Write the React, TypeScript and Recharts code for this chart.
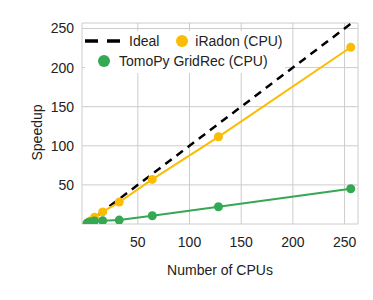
import { LineChart, Line, XAxis, YAxis, CartesianGrid, Legend, Label } from 'recharts';

const cpus = [1, 2, 4, 8, 16, 32, 64, 128, 256];
const ideal = [1, 2, 4, 8, 16, 32, 64, 128, 256];
const iradon = [1, 1.9, 3.9, 8.5, 15.5, 28, 57, 111.5, 226];
const gridrec = [1, 1.7, 2.6, 3.8, 4.2, 5, 10.5, 22, 45];

const seriesNames = ['Ideal', 'iRadon (CPU)', 'TomoPy GridRec (CPU)'];
const xTicks = [50, 100, 150, 200, 250];
const yTicks = [50, 100, 150, 200, 250];

const COLORS = ['#000000', '#FBBC04', '#34A853'];

const data = cpus.map((n, i) => ({
  cpus: n,
  ideal: ideal[i],
  iradon: iradon[i],
  gridrec: gridrec[i],
}));

const FONT = '"Liberation Sans", Arial, sans-serif';

function Dot({ color }: { color: string }) {
  return (
    <svg width={12} height={12} style={{ display: 'block' }}>
      <circle cx={6} cy={6} r={6} fill={color} />
    </svg>
  );
}

function ChartLegend() {
  const text = { fontSize: 14, color: '#222', lineHeight: '20px' };
  return (
    <div style={{ background: '#fff', fontFamily: FONT, paddingBottom: 2 }}>
      <div style={{ display: 'flex', alignItems: 'center', height: 20 }}>
        <svg width={35} height={4} style={{ display: 'block' }}>
          <line x1={0} y1={2} x2={35} y2={2} stroke={COLORS[0]} strokeWidth={3.5} strokeDasharray="13 9" />
        </svg>
        <span style={{ ...text, marginLeft: 9 }}>{seriesNames[0]}</span>
        <span style={{ marginLeft: 17 }}>
          <Dot color={COLORS[1]} />
        </span>
        <span style={{ ...text, marginLeft: 7 }}>{seriesNames[1]}</span>
      </div>
      <div style={{ display: 'flex', alignItems: 'center', height: 20, marginLeft: 13 }}>
        <Dot color={COLORS[2]} />
        <span style={{ ...text, marginLeft: 9 }}>{seriesNames[2]}</span>
      </div>
    </div>
  );
}

export default function App() {
  return (
    <div style={{ position: 'absolute', left: 0, top: 0, width: 373, height: 300, background: '#fff' }}>
      <LineChart
        width={373}
        height={300}
        data={data}
        margin={{ top: 23, right: 15, bottom: 0, left: 0 }}
        style={{ fontFamily: FONT }}
      >
        <CartesianGrid stroke="#cccccc" strokeWidth={1} />
        <XAxis
          dataKey="cpus"
          type="number"
          domain={[-4, 263]}
          ticks={xTicks}
          height={76}
          axisLine={false}
          tickLine={false}
          tickMargin={7}
          allowDataOverflow
          tick={{ fill: '#222', fontSize: 14 }}
        >
          <Label value="Number of CPUs" position="insideBottom" offset={25} fill="#222" fontSize={14} />
        </XAxis>
        <YAxis
          type="number"
          domain={[0, 257]}
          ticks={yTicks}
          width={82}
          axisLine={false}
          tickLine={false}
          allowDataOverflow
          tick={{ fill: '#222', fontSize: 14 }}
        >
          <Label value="Speedup" position="center" angle={-90} dx={-4} dy={9} fill="#222" fontSize={14} />
        </YAxis>
        <Legend
          layout="vertical"
          align="center"
          verticalAlign="middle"
          wrapperStyle={{ top: 31, left: 85, width: 200 }}
          content={() => <ChartLegend />}
        />
        <Line
          dataKey="ideal"
          name={seriesNames[0]}
          stroke={COLORS[0]}
          strokeWidth={2.5}
          strokeDasharray="8 6"
          dot={false}
          isAnimationActive={false}
        />
        <Line
          dataKey="iradon"
          name={seriesNames[1]}
          stroke={COLORS[1]}
          strokeWidth={2}
          dot={{ r: 4.5, fill: COLORS[1], stroke: 'none' }}
          isAnimationActive={false}
        />
        <Line
          dataKey="gridrec"
          name={seriesNames[2]}
          stroke={COLORS[2]}
          strokeWidth={2}
          dot={{ r: 4.5, fill: COLORS[2], stroke: 'none' }}
          isAnimationActive={false}
        />
      </LineChart>
    </div>
  );
}
